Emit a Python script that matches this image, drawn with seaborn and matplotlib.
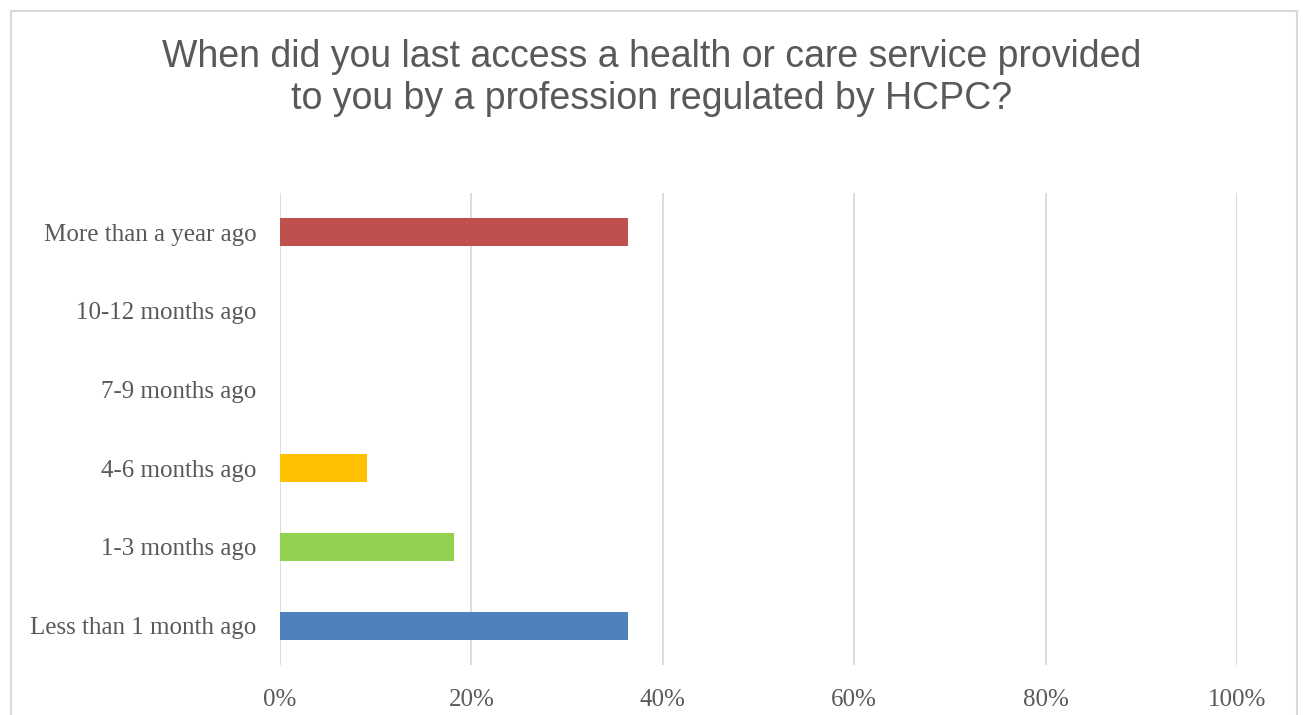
import numpy as np
import pandas as pd
import matplotlib
matplotlib.use("Agg")
import matplotlib.pyplot as plt
import seaborn as sns
from matplotlib.patches import Rectangle
from matplotlib.ticker import PercentFormatter

# answers, top to bottom as shown in the chart
categories = ["More than a year ago", "10-12 months ago", "7-9 months ago",
              "4-6 months ago", "1-3 months ago", "Less than 1 month ago"]
shares = [4/11, 0, 0, 1/11, 2/11, 4/11]
bar_colors = ["#C0504D", "#C0504D", "#C0504D", "#FFC000", "#92D050", "#4F81BD"]

df = pd.DataFrame({"answer": categories, "share": shares})

sns.set_style("white")
plt.rcParams["font.family"] = ["Liberation Serif", "DejaVu Serif"]

fig = plt.figure(figsize=(13.03, 7.15), dpi=100)
ax = fig.add_axes([280/1303, 1 - 665/715, (1237 - 280)/1303, (665 - 193)/715])

sns.barplot(data=df, x="share", y="answer", hue="answer", order=categories,
            palette=dict(zip(categories, bar_colors)), legend=False,
            width=0.36, saturation=1, linewidth=0, ax=ax)

ax.set_xlim(0, 1)
ax.set_xticks(np.arange(0, 1.01, 0.2))
ax.xaxis.set_major_formatter(PercentFormatter(1.0, decimals=0))
ax.grid(axis="x", color="#D9D9D9", linewidth=1.3)
ax.set_axisbelow(True)
for s in ax.spines.values():
    s.set_visible(False)
ax.tick_params(axis="both", length=0, labelsize=18, labelcolor="#595959")
ax.tick_params(axis="x", pad=17)
ax.tick_params(axis="y", pad=17)
ax.set_xlabel("")
ax.set_ylabel("")

fig.text(0.5, 1 - 78/715,
         "When did you last access a health or care service provided\nto you by a profession regulated by HCPC?",
         ha="center", va="center", fontsize=27, color="#595959",
         family=["Liberation Sans", "DejaVu Sans"], linespacing=1.2)

# outer chart border
fig.patches.append(Rectangle((11/1303, -0.05), (1297 - 11)/1303, 1.05 - 11/715,
                             transform=fig.transFigure, fill=False,
                             edgecolor="#D9D9D9", linewidth=1.5))

fig.savefig("out.png", dpi=100)
